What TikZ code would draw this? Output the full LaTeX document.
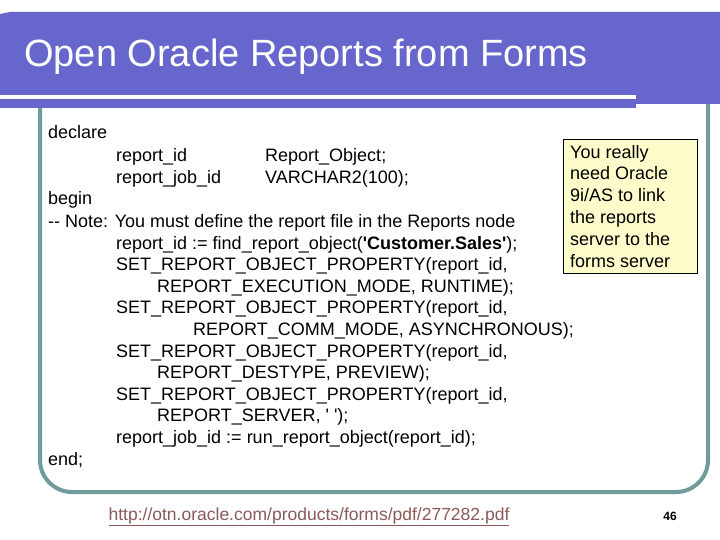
\documentclass[tikz,border=0pt]{standalone}
\usepackage{fontspec}
\setmainfont{Liberation Sans}[Ligatures=TeXOff]
\begin{document}
\begin{tikzpicture}[x=1pt,y=-1pt,
  code/.style={anchor=base west,inner sep=0pt,font=\fontsize{18}{21}\selectfont},
  note/.style={anchor=base west,inner sep=0pt,font=\fontsize{18}{21}\selectfont}]
\useasboundingbox (0,0) rectangle (720,540);
\fill[white] (0,0) rectangle (720,540);
\definecolor{bar}{HTML}{6666CC}
\definecolor{frame}{HTML}{6F9B9B}
\definecolor{link}{HTML}{8A5A5A}
% content frame
\draw[frame,line width=4pt,rounded corners=32pt] (40,80) -- (40,492) -- (708,492) -- (708,80);
% title bar
\fill[bar] (10,12) -- (720,12) -- (720,104) -- (636,104) -- (636,108) -- (0,108) -- (0,14) -- cycle;
\fill[white] (0,95) rectangle (636,99);
\node[anchor=base west,inner sep=0pt,text=white,font=\fontsize{38}{43}\selectfont] (title) at (24,67) {Open Oracle Reports from Forms};
% code
\node[code] (l1) at (48,139) {declare};
\node[code] (l2) at (116,162) {report\_id};
\node[code] (l2b) at (265,162) {Report\_Object;};
\node[code] (l3) at (116,184) {report\_job\_id};
\node[code] (l3b) at (265,184) {VARCHAR2(100);};
\node[code] (l4) at (48,205) {begin};
\node[code] (l5) at (48,227) {-- Note: You must define the report file in the Reports node};
\node[code] (l6) at (116,249) {report\_id := find\_report\_object(\textbf{'Customer.Sales'});};
\node[code] (l7) at (116,270) {SET\_REPORT\_OBJECT\_PROPERTY(report\_id,};
\node[code] (l8) at (157,292) {REPORT\_EXECUTION\_MODE, RUNTIME);};
\node[code] (l9) at (116,313) {SET\_REPORT\_OBJECT\_PROPERTY(report\_id,};
\node[code] (l10) at (193,335) {REPORT\_COMM\_MODE, ASYNCHRONOUS);};
\node[code] (l11) at (116,357) {SET\_REPORT\_OBJECT\_PROPERTY(report\_id,};
\node[code] (l12) at (157,378) {REPORT\_DESTYPE, PREVIEW);};
\node[code] (l13) at (116,400) {SET\_REPORT\_OBJECT\_PROPERTY(report\_id,};
\node[code] (l14) at (157,421) {REPORT\_SERVER, ' ');};
\node[code] (l15) at (116,443) {report\_job\_id := run\_report\_object(report\_id);};
\node[code] (l16) at (48,465) {end;};
% note box
\draw[fill=yellow!20,draw=black,line width=0.8pt] (563,139) rectangle (697,273);
\node[note] (n1) at (570,159) {You really};
\node[note] (n2) at (570,180) {need Oracle};
\node[note] (n3) at (570,202) {9i/AS to link};
\node[note] (n4) at (570,223) {the reports};
\node[note] (n5) at (570,245) {server to the};
\node[note] (n6) at (570,267) {forms server};
% footer
\node[anchor=base,inner sep=0pt,text=link,font=\fontsize{17.5}{20}\selectfont] (url) at (309,520) {\underline{http://otn.oracle.com/products/forms/pdf/277282.pdf}};
\node[anchor=base,inner sep=0pt,font=\bfseries\fontsize{12}{14}\selectfont] (pg) at (670,520) {46};
\end{tikzpicture}
\end{document}
